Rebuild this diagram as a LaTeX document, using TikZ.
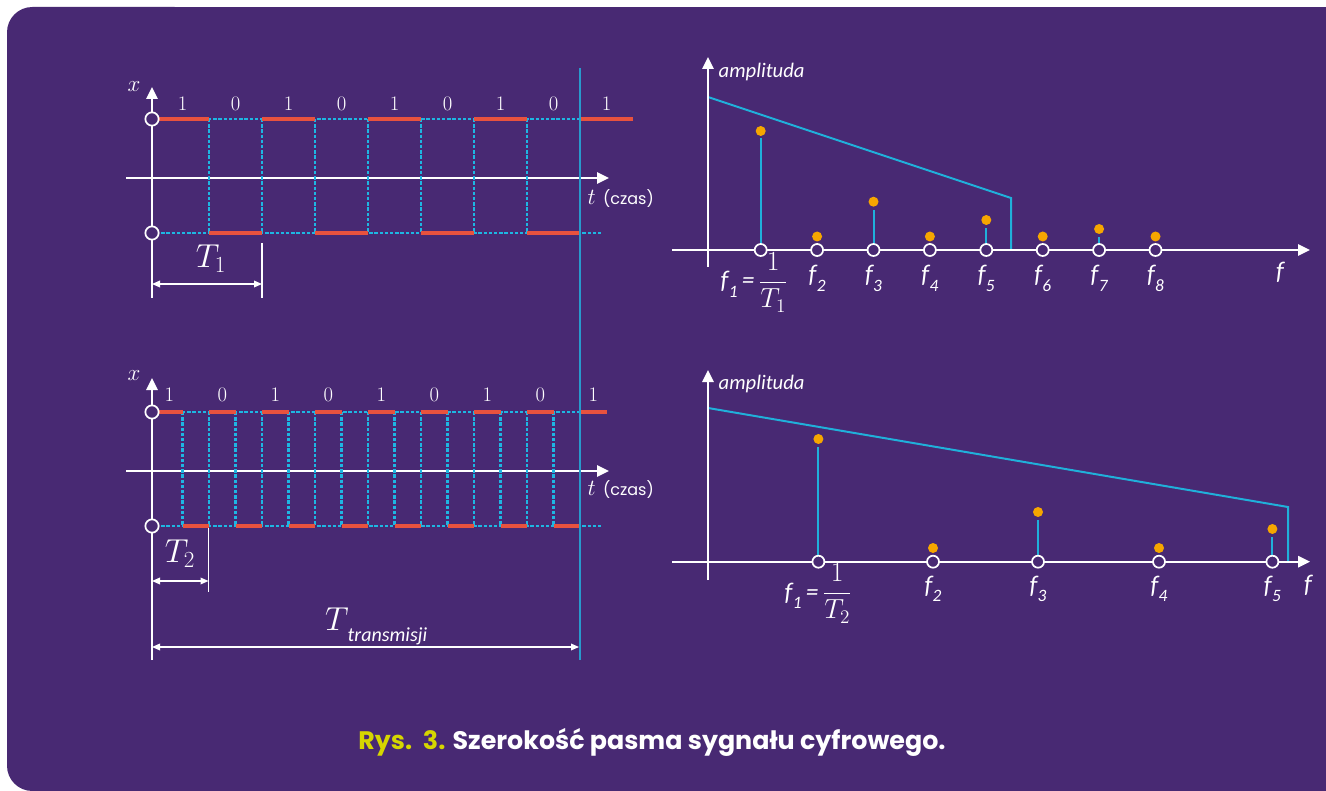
\documentclass[tikz,border=0pt]{standalone}
\usepackage{fontspec}
\newfontfamily\capfont{Poppins}
\newfontfamily\labfont{Carlito}
\usetikzlibrary{arrows.meta}

\definecolor{bgpurple}{RGB}{72,41,115}
\definecolor{sigred}{RGB}{232,82,62}
\definecolor{dotcyan}{RGB}{30,182,226}
\definecolor{linecyan}{RGB}{32,176,218}
\definecolor{tline}{RGB}{40,154,204}
\definecolor{dotorange}{RGB}{246,166,0}
\definecolor{capyellow}{RGB}{214,214,0}

% f with a low subscript
\newcommand{\flab}[1]{f\kern0.3pt\raisebox{-6.5pt}{\fontsize{13}{14}\selectfont #1}}

\begin{document}
\begin{tikzpicture}[x=0.75pt, y=-0.75pt,
    axis/.style={white, line width=1.5pt, -{Triangle[length=9pt,width=8.5pt]}},
    level/.style={sigred, line width=3.6pt},
    edge/.style={dotcyan, line width=2pt, dash pattern=on 2.5pt off 1.4pt},
    dim/.style={white, line width=0.9pt,
                {Triangle[length=6pt,width=5pt]}-{Triangle[length=6pt,width=5pt]}},
    tick/.style={white, line width=0.8pt},
    ring/.style={circle, draw=white, fill=bgpurple, line width=1.3pt,
                 inner sep=0pt, minimum size=10pt},
    fring/.style={ring, minimum size=9pt},
    stem/.style={linecyan, line width=1.5pt},
    peak/.style={circle, fill=dotorange, inner sep=0pt, minimum size=7.5pt},
    bit/.style={white, font=\fontsize{15.5}{17}\selectfont},
    flabel/.style={white, font=\labfont\itshape\fontsize{19}{21}\selectfont},
    axlabel/.style={white, font=\labfont\itshape\fontsize{15.5}{18}\selectfont},
    bigT/.style={white, font=\fontsize{23}{26}\selectfont},
    timelabel/.style={white, anchor=west}
]

% Background
\useasboundingbox (0,0) rectangle (1326,791);
\fill[white] (0,0) rectangle (1326,791);
\fill[bgpurple, rounded corners=19pt] (7,7) rectangle (200,791);
\fill[bgpurple] (100,7) rectangle (1326,791);

% Signal with period T1
\draw[axis] (152,298) -- (152,87);
\draw[axis] (126,178) -- (609,178);
\draw[edge] (156,119) -- (580,119);
\draw[edge] (156,233) -- (602,233);
\foreach \a in {209,262,...,580}
    \draw[edge] (\a,119) -- (\a,233);
\foreach \a in {156,262,368,474,580}
    \draw[level] (\a,119) -- ++(53,0);
\foreach \a in {209,315,421,527}
    \draw[level] (\a,233) -- ++(53,0);
\foreach \b [count=\i from 0] in {1,0,1,0,1,0,1,0,1}
    \node[bit] at (182.5+53*\i,104) {\b};
\node[ring] (hi1) at (152,119) {};
\node[ring] (lo1) at (152,233) {};
\node[white, font=\fontsize{17}{19}\selectfont] at (134,87) {$x$};
\node[timelabel] at (583,199)
    {\fontsize{18}{20}\selectfont$t$ {\capfont\fontsize{12}{14}\selectfont(czas)}};

% T1 width
\draw[tick] (262,243) -- (262,298);
\draw[dim] (152,284) -- (262,284);
\node[bigT] at (211,259) {$T_1$};

% Signal with period T2
\draw[axis] (152,660) -- (152,378);
\draw[axis] (126,471) -- (609,471);
\draw[edge] (156,412) -- (580,412);
\draw[edge] (156,526) -- (602,526);
\foreach \k in {0,...,15}
    \draw[edge] (182.5+26.5*\k,412) -- (182.5+26.5*\k,526);
\foreach \k in {0,...,8}
    \draw[level] (156+53*\k,412) -- ++(26.5,0);
\foreach \k in {0,...,7}
    \draw[level] (182.5+53*\k,526) -- ++(26.5,0);
\foreach \b [count=\i from 0] in {1,0,1,0,1,0,1,0,1}
    \node[bit] at (169.25+53*\i,395) {\b};
\node[ring] (hi2) at (152,412) {};
\node[ring] (lo2) at (152,526) {};
\node[white, font=\fontsize{17}{19}\selectfont] at (134,376) {$x$};
\node[timelabel] at (583,490)
    {\fontsize{18}{20}\selectfont$t$ {\capfont\fontsize{12}{14}\selectfont(czas)}};

% T2 width and transmission time
\draw[tick] (208.5,528) -- (208.5,592);
\draw[dim] (152,581) -- (208.5,581);
\node[bigT] at (180,554) {$T_2$};
\draw[tline, line width=1.6pt] (580,68) -- (580,660);
\draw[dim] (152,647) -- (579,647);
\node[bigT] (Ttr) at (337,619) {$T$};
\node[white, anchor=west, font=\labfont\itshape\fontsize{15}{17}\selectfont]
    at (343,636) {transmisji};

% Spectrum for T1
\draw[linecyan, line width=1.5pt] (708,97) -- (1011,198) -- (1011,250);
\draw[axis] (708,267) -- (708,57);
\draw[axis] (672,250) -- (1310,250);
\node[axlabel, anchor=west] at (714,72) {amplituda};
\foreach \x/\h in {760.7/138,873.5/210,986.3/228,1099.1/237}
    \draw[stem] (\x,250) -- (\x,\h);
\foreach \x/\h in {760.7/131,817.1/236.5,873.5/201.7,929.9/236.5,
                   986.3/220,1042.7/236.5,1099.1/229,1155.5/236.5}
    \node[peak] at (\x,\h) {};
\foreach \x [count=\k] in {760.7,817.1,873.5,929.9,986.3,1042.7,1099.1,1155.5}
    \node[fring] (fa\k) at (\x,250) {};
\foreach \x [count=\k from 2] in {817.1,873.5,929.9,986.3,1042.7,1099.1,1155.5}
    \node[flabel, anchor=base] at (\x,283) {\flab{\k}};
\node[flabel, anchor=base west] at (716,289)
    {\flab{1}\,=\,{\rmfamily\upshape\fontsize{20}{22}\selectfont$\displaystyle\frac{1}{T_1}$}};
\node[flabel, anchor=base] at (1280,280) {f};

% Spectrum for T2
\draw[linecyan, line width=1.5pt] (708,408) -- (1288,507) -- (1288,561.7);
\draw[axis] (708,580) -- (708,370);
\draw[axis] (672,561.7) -- (1310,561.7);
\node[axlabel, anchor=west] at (714,384) {amplituda};
\foreach \x/\h in {818.4/447,1038/520,1272.4/537}
    \draw[stem] (\x,561.7) -- (\x,\h);
\foreach \x/\h in {818.4/439,933/548,1038/512,1159/548,1272.4/529}
    \node[peak] at (\x,\h) {};
\foreach \x [count=\k] in {818.4,933,1038,1159,1272.4}
    \node[fring] (fb\k) at (\x,561.7) {};
\foreach \x [count=\k from 2] in {933,1038,1159,1272.4}
    \node[flabel, anchor=base] at (\x,593) {\flab{\k}};
\node[flabel, anchor=base west] at (780,600)
    {\flab{1}\,=\,{\rmfamily\upshape\fontsize{20}{22}\selectfont$\displaystyle\frac{1}{T_2}$}};
\node[flabel, anchor=base] at (1308,592) {f};

% Caption
\node[font=\capfont\bfseries\fontsize{19}{22}\selectfont, white] (cap) at (652,742)
    {\textcolor{capyellow}{Rys.\ \ 3.} Szerokość pasma sygnału cyfrowego.};

\end{tikzpicture}
\end{document}
